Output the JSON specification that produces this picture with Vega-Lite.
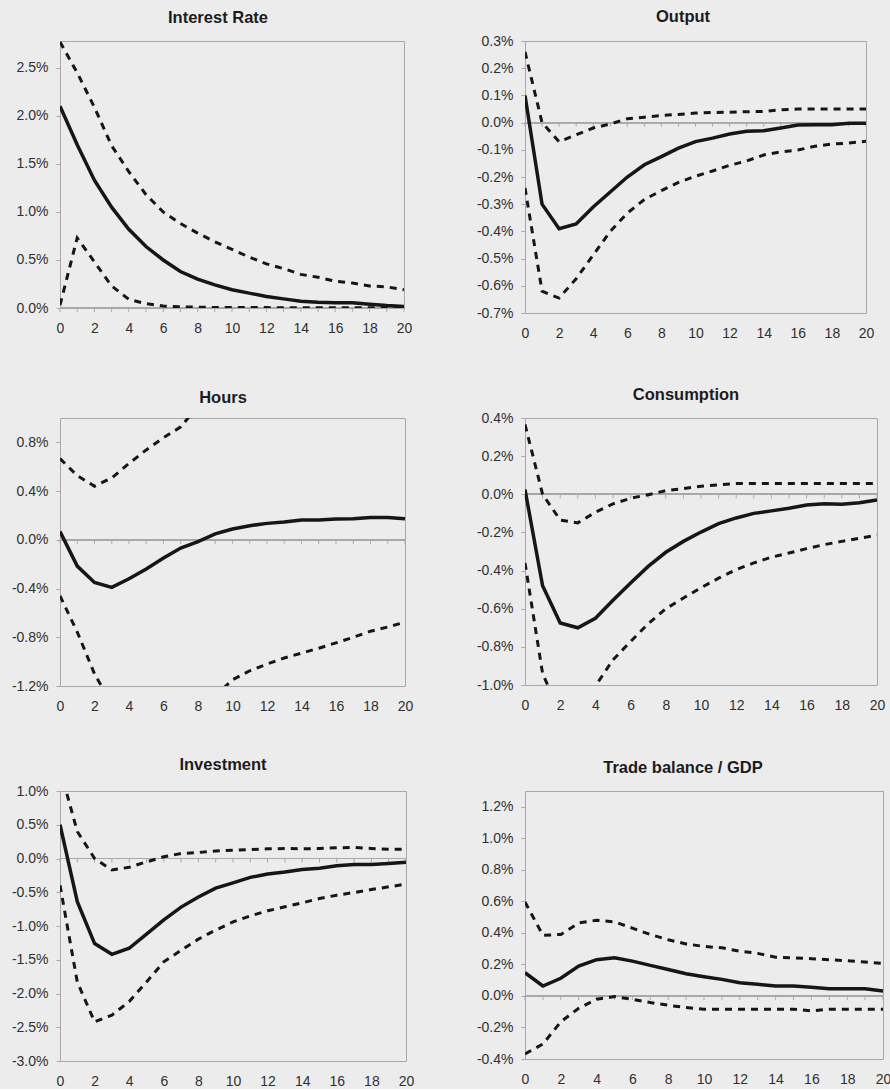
{
  "$schema": "https://vega.github.io/schema/vega-lite/v6.json",
  "background": "#ececec",
  "padding": {"left": 10, "top": 8, "right": 0, "bottom": 0},
  "columns": 2,
  "align": "each",
  "bounds": "flush",
  "spacing": {"row": 105, "column": 119},
  "config": {
    "font": "Liberation Sans",
    "view": {"stroke": "#a8a8a8", "strokeWidth": 1, "fill": "#ececec"},
    "axis": {"labelFont": "Liberation Sans", "labelFontSize": 14, "labelColor": "#303030", "grid": false, "domain": false, "title": null, "labelOverlap": false, "labelFlush": false, "tickCount": 40},
    "axisX": {"ticks": false, "labelPadding": 13},
    "axisY": {"tickSize": 4, "tickColor": "#a8a8a8", "labelPadding": 8},
    "title": {"font": "Liberation Sans", "fontSize": 16.5, "fontWeight": "bold", "color": "#1c1c1c", "anchor": "middle", "baseline": "alphabetic"},
    "rule": {"color": "#a8a8a8", "strokeWidth": 1},
    "line": {"color": "#161616"}
  },
  "datasets": {
    "interestRate": [
      {"step": 0, "irf": 2.10, "lo": 0.03, "hi": 2.77},
      {"step": 1, "irf": 1.70, "lo": 0.73, "hi": 2.45},
      {"step": 2, "irf": 1.33, "lo": 0.48, "hi": 2.09},
      {"step": 3, "irf": 1.05, "lo": 0.23, "hi": 1.69},
      {"step": 4, "irf": 0.82, "lo": 0.09, "hi": 1.42},
      {"step": 5, "irf": 0.64, "lo": 0.045, "hi": 1.18},
      {"step": 6, "irf": 0.50, "lo": 0.02, "hi": 1.00},
      {"step": 7, "irf": 0.38, "lo": 0.012, "hi": 0.88},
      {"step": 8, "irf": 0.30, "lo": 0.008, "hi": 0.78},
      {"step": 9, "irf": 0.24, "lo": 0.006, "hi": 0.69},
      {"step": 10, "irf": 0.19, "lo": 0.005, "hi": 0.61},
      {"step": 11, "irf": 0.155, "lo": 0.004, "hi": 0.53},
      {"step": 12, "irf": 0.12, "lo": 0.004, "hi": 0.46},
      {"step": 13, "irf": 0.095, "lo": 0.003, "hi": 0.41},
      {"step": 14, "irf": 0.07, "lo": 0.003, "hi": 0.35},
      {"step": 15, "irf": 0.06, "lo": 0.003, "hi": 0.32},
      {"step": 16, "irf": 0.055, "lo": 0.002, "hi": 0.28},
      {"step": 17, "irf": 0.055, "lo": 0.002, "hi": 0.26},
      {"step": 18, "irf": 0.04, "lo": 0.002, "hi": 0.23},
      {"step": 19, "irf": 0.025, "lo": 0.002, "hi": 0.22},
      {"step": 20, "irf": 0.015, "lo": 0.002, "hi": 0.19}
    ],
    "output": [
      {"step": 0, "irf": 0.10, "lo": -0.24, "hi": 0.26},
      {"step": 1, "irf": -0.30, "lo": -0.62, "hi": 0.00},
      {"step": 2, "irf": -0.39, "lo": -0.645, "hi": -0.07},
      {"step": 3, "irf": -0.373, "lo": -0.574, "hi": -0.045},
      {"step": 4, "irf": -0.31, "lo": -0.487, "hi": -0.02},
      {"step": 5, "irf": -0.255, "lo": -0.40, "hi": -0.005},
      {"step": 6, "irf": -0.20, "lo": -0.333, "hi": 0.014},
      {"step": 7, "irf": -0.155, "lo": -0.283, "hi": 0.02},
      {"step": 8, "irf": -0.125, "lo": -0.25, "hi": 0.026},
      {"step": 9, "irf": -0.094, "lo": -0.22, "hi": 0.03},
      {"step": 10, "irf": -0.07, "lo": -0.197, "hi": 0.035},
      {"step": 11, "irf": -0.057, "lo": -0.178, "hi": 0.037},
      {"step": 12, "irf": -0.042, "lo": -0.157, "hi": 0.038},
      {"step": 13, "irf": -0.032, "lo": -0.141, "hi": 0.04},
      {"step": 14, "irf": -0.03, "lo": -0.119, "hi": 0.041},
      {"step": 15, "irf": -0.02, "lo": -0.108, "hi": 0.047},
      {"step": 16, "irf": -0.009, "lo": -0.101, "hi": 0.05},
      {"step": 17, "irf": -0.008, "lo": -0.087, "hi": 0.05},
      {"step": 18, "irf": -0.008, "lo": -0.079, "hi": 0.05},
      {"step": 19, "irf": -0.002, "lo": -0.075, "hi": 0.05},
      {"step": 20, "irf": -0.002, "lo": -0.069, "hi": 0.05}
    ],
    "hours": [
      {"step": 0, "irf": 0.068, "lo": -0.46, "hi": 0.667},
      {"step": 1, "irf": -0.216, "lo": -0.757, "hi": 0.527},
      {"step": 2, "irf": -0.35, "lo": -1.10, "hi": 0.44},
      {"step": 3, "irf": -0.39, "lo": -1.35, "hi": 0.508},
      {"step": 4, "irf": -0.32, "lo": -1.45, "hi": 0.627},
      {"step": 5, "irf": -0.24, "lo": -1.50, "hi": 0.738},
      {"step": 6, "irf": -0.15, "lo": -1.50, "hi": 0.838},
      {"step": 7, "irf": -0.068, "lo": -1.45, "hi": 0.927},
      {"step": 8, "irf": -0.014, "lo": -1.38, "hi": 1.10},
      {"step": 9, "irf": 0.049, "lo": -1.28, "hi": 1.16},
      {"step": 10, "irf": 0.089, "lo": -1.149, "hi": 1.20},
      {"step": 11, "irf": 0.116, "lo": -1.075, "hi": 1.22},
      {"step": 12, "irf": 0.135, "lo": -1.02, "hi": 1.24},
      {"step": 13, "irf": 0.146, "lo": -0.97, "hi": 1.25},
      {"step": 14, "irf": 0.162, "lo": -0.93, "hi": 1.26},
      {"step": 15, "irf": 0.162, "lo": -0.89, "hi": 1.27},
      {"step": 16, "irf": 0.17, "lo": -0.846, "hi": 1.27},
      {"step": 17, "irf": 0.173, "lo": -0.80, "hi": 1.28},
      {"step": 18, "irf": 0.184, "lo": -0.75, "hi": 1.28},
      {"step": 19, "irf": 0.184, "lo": -0.716, "hi": 1.29},
      {"step": 20, "irf": 0.173, "lo": -0.676, "hi": 1.29}
    ],
    "consumption": [
      {"step": 0, "irf": 0.025, "lo": -0.36, "hi": 0.366},
      {"step": 1, "irf": -0.48, "lo": -0.94, "hi": 0.0},
      {"step": 2, "irf": -0.675, "lo": -1.15, "hi": -0.135},
      {"step": 3, "irf": -0.70, "lo": -1.12, "hi": -0.15},
      {"step": 4, "irf": -0.65, "lo": -1.005, "hi": -0.094},
      {"step": 5, "irf": -0.556, "lo": -0.868, "hi": -0.05},
      {"step": 6, "irf": -0.465, "lo": -0.772, "hi": -0.021},
      {"step": 7, "irf": -0.378, "lo": -0.679, "hi": -0.002},
      {"step": 8, "irf": -0.304, "lo": -0.60, "hi": 0.019},
      {"step": 9, "irf": -0.247, "lo": -0.544, "hi": 0.03},
      {"step": 10, "irf": -0.198, "lo": -0.49, "hi": 0.042},
      {"step": 11, "irf": -0.154, "lo": -0.44, "hi": 0.049},
      {"step": 12, "irf": -0.124, "lo": -0.395, "hi": 0.056},
      {"step": 13, "irf": -0.10, "lo": -0.36, "hi": 0.056},
      {"step": 14, "irf": -0.087, "lo": -0.33, "hi": 0.056},
      {"step": 15, "irf": -0.073, "lo": -0.308, "hi": 0.056},
      {"step": 16, "irf": -0.056, "lo": -0.285, "hi": 0.056},
      {"step": 17, "irf": -0.049, "lo": -0.264, "hi": 0.056},
      {"step": 18, "irf": -0.052, "lo": -0.247, "hi": 0.056},
      {"step": 19, "irf": -0.044, "lo": -0.23, "hi": 0.056},
      {"step": 20, "irf": -0.03, "lo": -0.215, "hi": 0.056}
    ],
    "investment": [
      {"step": 0, "irf": 0.50, "lo": -0.395, "hi": 1.33},
      {"step": 1, "irf": -0.64, "lo": -1.83, "hi": 0.40},
      {"step": 2, "irf": -1.26, "lo": -2.42, "hi": 0.0},
      {"step": 3, "irf": -1.42, "lo": -2.32, "hi": -0.17},
      {"step": 4, "irf": -1.33, "lo": -2.12, "hi": -0.13},
      {"step": 5, "irf": -1.12, "lo": -1.83, "hi": -0.05},
      {"step": 6, "irf": -0.91, "lo": -1.53, "hi": 0.025},
      {"step": 7, "irf": -0.72, "lo": -1.36, "hi": 0.074},
      {"step": 8, "irf": -0.57, "lo": -1.195, "hi": 0.089},
      {"step": 9, "irf": -0.44, "lo": -1.06, "hi": 0.11},
      {"step": 10, "irf": -0.36, "lo": -0.94, "hi": 0.123},
      {"step": 11, "irf": -0.28, "lo": -0.85, "hi": 0.133},
      {"step": 12, "irf": -0.23, "lo": -0.775, "hi": 0.143},
      {"step": 13, "irf": -0.20, "lo": -0.716, "hi": 0.148},
      {"step": 14, "irf": -0.163, "lo": -0.657, "hi": 0.143},
      {"step": 15, "irf": -0.143, "lo": -0.593, "hi": 0.148},
      {"step": 16, "irf": -0.109, "lo": -0.543, "hi": 0.158},
      {"step": 17, "irf": -0.089, "lo": -0.504, "hi": 0.163},
      {"step": 18, "irf": -0.089, "lo": -0.459, "hi": 0.148},
      {"step": 19, "irf": -0.074, "lo": -0.42, "hi": 0.138},
      {"step": 20, "irf": -0.054, "lo": -0.38, "hi": 0.138}
    ],
    "tradeBalance": [
      {"step": 0, "irf": 0.147, "lo": -0.368, "hi": 0.596},
      {"step": 1, "irf": 0.063, "lo": -0.305, "hi": 0.385},
      {"step": 2, "irf": 0.112, "lo": -0.164, "hi": 0.39},
      {"step": 3, "irf": 0.19, "lo": -0.078, "hi": 0.463},
      {"step": 4, "irf": 0.23, "lo": -0.021, "hi": 0.48},
      {"step": 5, "irf": 0.242, "lo": -0.004, "hi": 0.47},
      {"step": 6, "irf": 0.221, "lo": -0.021, "hi": 0.43},
      {"step": 7, "irf": 0.194, "lo": -0.042, "hi": 0.39},
      {"step": 8, "irf": 0.168, "lo": -0.059, "hi": 0.356},
      {"step": 9, "irf": 0.141, "lo": -0.074, "hi": 0.33},
      {"step": 10, "irf": 0.122, "lo": -0.084, "hi": 0.314},
      {"step": 11, "irf": 0.105, "lo": -0.084, "hi": 0.305},
      {"step": 12, "irf": 0.084, "lo": -0.084, "hi": 0.284},
      {"step": 13, "irf": 0.074, "lo": -0.084, "hi": 0.27},
      {"step": 14, "irf": 0.063, "lo": -0.084, "hi": 0.246},
      {"step": 15, "irf": 0.063, "lo": -0.084, "hi": 0.242},
      {"step": 16, "irf": 0.055, "lo": -0.095, "hi": 0.236},
      {"step": 17, "irf": 0.046, "lo": -0.084, "hi": 0.23},
      {"step": 18, "irf": 0.046, "lo": -0.084, "hi": 0.223},
      {"step": 19, "irf": 0.046, "lo": -0.084, "hi": 0.215},
      {"step": 20, "irf": 0.032, "lo": -0.084, "hi": 0.206}
    ]
  },
  "concat": [
    {
      "title": {"text": "Interest Rate", "dx": -14, "offset": 14.5},
      "width": 344, "height": 267,
      "data": {"name": "interestRate"},
      "layer": [
        {"mark": "rule", "encoding": {"y": {"datum": 0, "type": "quantitative"}}},
        {"mark": {"type": "rule", "y2Offset": 4}, "encoding": {"x": {"field": "step", "type": "quantitative"}, "y": {"datum": 0, "type": "quantitative"}, "y2": {"datum": 0}}},
        {"mark": {"type": "line", "strokeWidth": 3, "strokeDash": [7, 6], "clip": true},
         "encoding": {
           "x": {"field": "step", "type": "quantitative", "scale": {"domain": [0, 20], "nice": false}, "axis": {"values": [0, 2, 4, 6, 8, 10, 12, 14, 16, 18, 20], "format": "d", "tickCount": 40, "labelOverlap": false, "labelFlush": false}},
           "y": {"field": "hi", "type": "quantitative", "scale": {"domain": [0, 2.78], "nice": false, "zero": false},
                 "axis": {"values": [0, 0.5, 1, 1.5, 2, 2.5], "tickCount": 40, "labelOverlap": false, "labelFlush": false, "labelExpr": "(datum.value < 0 ? '-' : '') + format(abs(datum.value), '.1f') + '%'"}}}},
        {"mark": {"type": "line", "strokeWidth": 3, "strokeDash": [7, 6], "clip": true}, "encoding": {"x": {"field": "step", "type": "quantitative"}, "y": {"field": "lo", "type": "quantitative"}}},
        {"mark": {"type": "line", "strokeWidth": 3.5, "clip": true}, "encoding": {"x": {"field": "step", "type": "quantitative"}, "y": {"field": "irf", "type": "quantitative"}}}
      ]
    },
    {
      "title": {"text": "Output", "dx": -12.5, "offset": 8.5},
      "width": 341, "height": 272,
      "data": {"name": "output"},
      "layer": [
        {"mark": "rule", "encoding": {"y": {"datum": 0, "type": "quantitative"}}},
        {"mark": {"type": "rule", "y2Offset": 4}, "encoding": {"x": {"field": "step", "type": "quantitative"}, "y": {"datum": 0, "type": "quantitative"}, "y2": {"datum": 0}}},
        {"mark": {"type": "line", "strokeWidth": 3, "strokeDash": [7, 6], "clip": true},
         "encoding": {
           "x": {"field": "step", "type": "quantitative", "scale": {"domain": [0, 20], "nice": false}, "axis": {"values": [0, 2, 4, 6, 8, 10, 12, 14, 16, 18, 20], "format": "d", "tickCount": 40, "labelOverlap": false, "labelFlush": false}},
           "y": {"field": "hi", "type": "quantitative", "scale": {"domain": [-0.7, 0.3], "nice": false, "zero": false},
                 "axis": {"values": [-0.7, -0.6, -0.5, -0.4, -0.3, -0.2, -0.1, 0, 0.1, 0.2, 0.3], "tickCount": 40, "labelOverlap": false, "labelFlush": false, "labelExpr": "(datum.value < 0 ? '-' : '') + format(abs(datum.value), '.1f') + '%'"}}}},
        {"mark": {"type": "line", "strokeWidth": 3, "strokeDash": [7, 6], "clip": true}, "encoding": {"x": {"field": "step", "type": "quantitative"}, "y": {"field": "lo", "type": "quantitative"}}},
        {"mark": {"type": "line", "strokeWidth": 3.5, "clip": true}, "encoding": {"x": {"field": "step", "type": "quantitative"}, "y": {"field": "irf", "type": "quantitative"}}}
      ]
    },
    {
      "title": {"text": "Hours", "dx": -9.5, "offset": 11.5},
      "width": 345, "height": 268,
      "data": {"name": "hours"},
      "layer": [
        {"mark": "rule", "encoding": {"y": {"datum": 0, "type": "quantitative"}}},
        {"mark": {"type": "rule", "y2Offset": 4}, "encoding": {"x": {"field": "step", "type": "quantitative"}, "y": {"datum": 0, "type": "quantitative"}, "y2": {"datum": 0}}},
        {"mark": {"type": "line", "strokeWidth": 3, "strokeDash": [7, 6], "clip": true},
         "encoding": {
           "x": {"field": "step", "type": "quantitative", "scale": {"domain": [0, 20], "nice": false}, "axis": {"values": [0, 2, 4, 6, 8, 10, 12, 14, 16, 18, 20], "format": "d", "tickCount": 40, "labelOverlap": false, "labelFlush": false}},
           "y": {"field": "hi", "type": "quantitative", "scale": {"domain": [-1.2, 1.0], "nice": false, "zero": false},
                 "axis": {"values": [-1.2, -0.8, -0.4, 0, 0.4, 0.8], "tickCount": 40, "labelOverlap": false, "labelFlush": false, "labelExpr": "(datum.value < 0 ? '-' : '') + format(abs(datum.value), '.1f') + '%'"}}}},
        {"mark": {"type": "line", "strokeWidth": 3, "strokeDash": [7, 6], "clip": true}, "encoding": {"x": {"field": "step", "type": "quantitative"}, "y": {"field": "lo", "type": "quantitative"}}},
        {"mark": {"type": "line", "strokeWidth": 3.5, "clip": true}, "encoding": {"x": {"field": "step", "type": "quantitative"}, "y": {"field": "irf", "type": "quantitative"}}}
      ]
    },
    {
      "title": {"text": "Consumption", "dx": -15, "offset": 7.5},
      "width": 352, "height": 267,
      "data": {"name": "consumption"},
      "layer": [
        {"mark": "rule", "encoding": {"y": {"datum": 0, "type": "quantitative"}}},
        {"mark": {"type": "rule", "y2Offset": 4}, "encoding": {"x": {"field": "step", "type": "quantitative"}, "y": {"datum": 0, "type": "quantitative"}, "y2": {"datum": 0}}},
        {"mark": {"type": "line", "strokeWidth": 3, "strokeDash": [7, 6], "clip": true},
         "encoding": {
           "x": {"field": "step", "type": "quantitative", "scale": {"domain": [0, 20], "nice": false}, "axis": {"values": [0, 2, 4, 6, 8, 10, 12, 14, 16, 18, 20], "format": "d", "tickCount": 40, "labelOverlap": false, "labelFlush": false}},
           "y": {"field": "hi", "type": "quantitative", "scale": {"domain": [-1.0, 0.4], "nice": false, "zero": false},
                 "axis": {"values": [-1.0, -0.8, -0.6, -0.4, -0.2, 0, 0.2, 0.4], "tickCount": 40, "labelOverlap": false, "labelFlush": false, "labelExpr": "(datum.value < 0 ? '-' : '') + format(abs(datum.value), '.1f') + '%'"}}}},
        {"mark": {"type": "line", "strokeWidth": 3, "strokeDash": [7, 6], "clip": true}, "encoding": {"x": {"field": "step", "type": "quantitative"}, "y": {"field": "lo", "type": "quantitative"}}},
        {"mark": {"type": "line", "strokeWidth": 3.5, "clip": true}, "encoding": {"x": {"field": "step", "type": "quantitative"}, "y": {"field": "irf", "type": "quantitative"}}}
      ]
    },
    {
      "title": {"text": "Investment", "dx": -10, "offset": 10.5},
      "width": 346, "height": 270,
      "data": {"name": "investment"},
      "layer": [
        {"mark": "rule", "encoding": {"y": {"datum": 0, "type": "quantitative"}}},
        {"mark": {"type": "rule", "y2Offset": 4}, "encoding": {"x": {"field": "step", "type": "quantitative"}, "y": {"datum": 0, "type": "quantitative"}, "y2": {"datum": 0}}},
        {"mark": {"type": "line", "strokeWidth": 3, "strokeDash": [7, 6], "clip": true},
         "encoding": {
           "x": {"field": "step", "type": "quantitative", "scale": {"domain": [0, 20], "nice": false}, "axis": {"values": [0, 2, 4, 6, 8, 10, 12, 14, 16, 18, 20], "format": "d", "tickCount": 40, "labelOverlap": false, "labelFlush": false}},
           "y": {"field": "hi", "type": "quantitative", "scale": {"domain": [-3.0, 1.0], "nice": false, "zero": false},
                 "axis": {"values": [-3.0, -2.5, -2.0, -1.5, -1.0, -0.5, 0, 0.5, 1.0], "tickCount": 40, "labelOverlap": false, "labelFlush": false, "labelExpr": "(datum.value < 0 ? '-' : '') + format(abs(datum.value), '.1f') + '%'"}}}},
        {"mark": {"type": "line", "strokeWidth": 3, "strokeDash": [7, 6], "clip": true}, "encoding": {"x": {"field": "step", "type": "quantitative"}, "y": {"field": "lo", "type": "quantitative"}}},
        {"mark": {"type": "line", "strokeWidth": 3.5, "clip": true}, "encoding": {"x": {"field": "step", "type": "quantitative"}, "y": {"field": "irf", "type": "quantitative"}}}
      ]
    },
    {
      "title": {"text": "Trade balance / GDP", "dx": -21, "offset": 14.5},
      "width": 358, "height": 268,
      "data": {"name": "tradeBalance"},
      "layer": [
        {"mark": "rule", "encoding": {"y": {"datum": 0, "type": "quantitative"}}},
        {"mark": {"type": "rule", "y2Offset": 4}, "encoding": {"x": {"field": "step", "type": "quantitative"}, "y": {"datum": 0, "type": "quantitative"}, "y2": {"datum": 0}}},
        {"mark": {"type": "line", "strokeWidth": 3, "strokeDash": [7, 6], "clip": true},
         "encoding": {
           "x": {"field": "step", "type": "quantitative", "scale": {"domain": [0, 20], "nice": false}, "axis": {"values": [0, 2, 4, 6, 8, 10, 12, 14, 16, 18, 20], "format": "d", "tickCount": 40, "labelOverlap": false, "labelFlush": false}},
           "y": {"field": "hi", "type": "quantitative", "scale": {"domain": [-0.4, 1.3], "nice": false, "zero": false},
                 "axis": {"values": [-0.4, -0.2, 0, 0.2, 0.4, 0.6, 0.8, 1.0, 1.2], "tickCount": 40, "labelOverlap": false, "labelFlush": false, "labelExpr": "(datum.value < 0 ? '-' : '') + format(abs(datum.value), '.1f') + '%'"}}}},
        {"mark": {"type": "line", "strokeWidth": 3, "strokeDash": [7, 6], "clip": true}, "encoding": {"x": {"field": "step", "type": "quantitative"}, "y": {"field": "lo", "type": "quantitative"}}},
        {"mark": {"type": "line", "strokeWidth": 3.5, "clip": true}, "encoding": {"x": {"field": "step", "type": "quantitative"}, "y": {"field": "irf", "type": "quantitative"}}}
      ]
    }
  ]
}
